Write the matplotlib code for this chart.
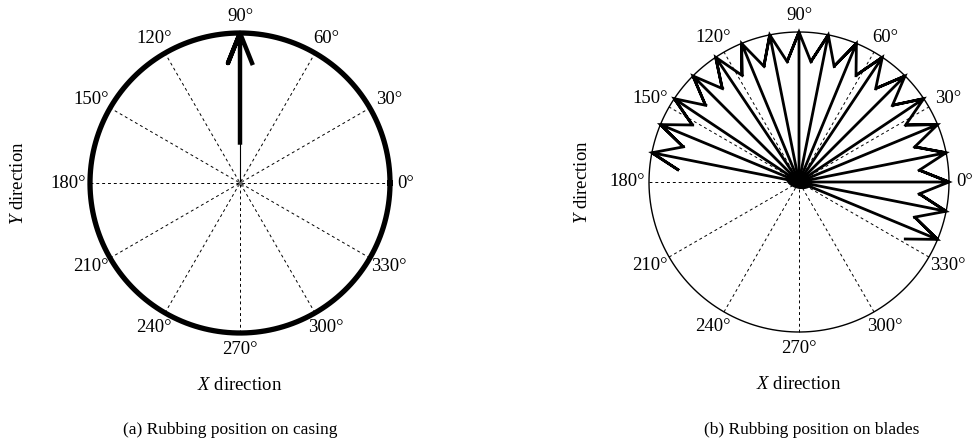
import matplotlib.pyplot as plt
from matplotlib.patches import Ellipse
import numpy as np

plt.rcParams['font.family'] = ['Liberation Serif', 'DejaVu Serif']
plt.rcParams['mathtext.fontset'] = 'custom'
plt.rcParams['mathtext.it'] = 'Liberation Serif:italic'
plt.rcParams['mathtext.rm'] = 'Liberation Serif'

# grid / label angles (deg)
grid_angles = [0, 30, 60, 90, 120, 150, 180, 210, 240, 270, 300, 330]
grid_labels = ['0°', '30°', '60°', '90°', '120°', '150°', '180°', '210°',
               '240°', '270°', '300°', '330°']

# (a) casing: one rub direction
casing_angles = [90]
casing_lengths = [1.0]

# (b) blades: rub directions, 11.25 deg apart
blade_angles = [-22.5, -11.25, 0, 11.25, 22.5, 33.75, 45, 56.25, 67.5, 78.75,
                90, 101.25, 112.5, 123.75, 135, 146.25, 157.5, 168.75]
blade_lengths = [1.0] * len(blade_angles)

captions = ['(a) Rubbing position on casing', '(b) Rubbing position on blades']

FS = 13.5


def arrow_xy(ang, r):
    # compass-style arrow: origin -> tip -> barb -> tip -> barb
    xx = np.array([0, 1, 0.8, 1, 0.8]) * r
    yy = np.array([0, 0, 0.08, 0, -0.08]) * r
    t = np.deg2rad(ang)
    return xx * np.cos(t) - yy * np.sin(t), xx * np.sin(t) + yy * np.cos(t)


def polar_frame(ax, rim_lw):
    th = np.linspace(0, 2 * np.pi, 400)
    ax.plot(np.cos(th), np.sin(th), color='black', lw=rim_lw, zorder=3)
    for a in grid_angles[:6]:
        t = np.deg2rad(a)
        ax.plot([-np.cos(t), np.cos(t)], [-np.sin(t), np.sin(t)], color='black',
                lw=0.7, ls=(0, (3, 3)), zorder=1)
    for a, lab in zip(grid_angles, grid_labels):
        t = np.deg2rad(a)
        if a == 0:
            ax.text(1.05, 0, lab, ha='left', va='center', fontsize=FS)
        else:
            ax.text(1.145 * np.cos(t), 1.11 * np.sin(t), lab, ha='center', va='center', fontsize=FS)
    ax.text(0, -1.35, '$X$ direction', ha='center', va='center', fontsize=FS)
    ax.axis('off')


W, H = 979, 448
fig = plt.figure(figsize=(W / 100, H / 100), dpi=100)
s = 150.0  # px per unit

# left panel, centre at (240, 265) px from bottom-left
cx, cy = 240, 265
ax1 = fig.add_axes([(cx - 1.6 * s) / W, (cy - 1.6 * s) / H, 3.2 * s / W, 2.8 * s / H])
ax1.set_xlim(-1.6, 1.6)
ax1.set_ylim(-1.6, 1.2)
polar_frame(ax1, 3.8)
ax1.text(-1.48, 0, '$Y$ direction', rotation=90, ha='center', va='center', fontsize=FS)
for a, r in zip(casing_angles, casing_lengths):
    x, y = arrow_xy(a, r)
    t = np.deg2rad(a)
    ax1.plot([0, 0.27 * r * np.cos(t)], [0, 0.27 * r * np.sin(t)], color='black', lw=0.8, zorder=4)
    ax1.plot(np.r_[0.27 * r * np.cos(t), x[1:]], np.r_[0.27 * r * np.sin(t), y[1:]],
             color='black', lw=3.2, zorder=4)
ax1.plot(0, 0, marker='x', color='0.4', ms=5, mew=1.0, zorder=5)

# right panel, centre at (799, 266)
cx, cy = 799, 266
ax2 = fig.add_axes([(cx - 1.55 * s) / W, (cy - 1.6 * s) / H, 2.7 * s / W, 2.8 * s / H])
ax2.set_xlim(-1.55, 1.15)
ax2.set_ylim(-1.6, 1.2)
polar_frame(ax2, 1.0)
ax2.text(-1.44, 0, '$Y$ direction', rotation=90, ha='center', va='center', fontsize=FS)
for a, r in zip(blade_angles, blade_lengths):
    x, y = arrow_xy(a, r)
    ax2.plot(x, y, color='black', lw=2.0, solid_joinstyle='miter', zorder=4)
ax2.add_patch(Ellipse((0.0, 0.01), 0.17, 0.1, angle=-15, color='black', zorder=5))

fig.text(230 / W, 18 / H, captions[0], ha='center', va='center', fontsize=12.5)
fig.text(812 / W, 18 / H, captions[1], ha='center', va='center', fontsize=12.5)

fig.savefig('out.png', dpi=100)
